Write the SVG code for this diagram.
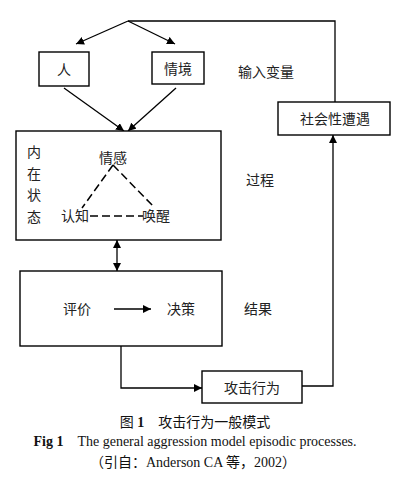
<svg xmlns="http://www.w3.org/2000/svg" width="400" height="479" viewBox="0 0 400 479">
<defs>
<marker id="ah" viewBox="0 0 10 10" refX="10" refY="5" markerWidth="8" markerHeight="8" orient="auto-start-reverse" markerUnits="userSpaceOnUse">
<path d="M0,0 L10,5 L0,10 z" fill="#000"/>
</marker>
<style>
.box{fill:#fff;stroke:#000;stroke-width:1.4}
.ln{fill:none;stroke:#000;stroke-width:1.3}
.dash{fill:none;stroke:#000;stroke-width:1.5;stroke-dasharray:8,4}
.t{font-family:"Liberation Serif","Noto Sans CJK SC",serif;font-size:14px;fill:#222;text-anchor:middle;dominant-baseline:central}
.c{font-family:"Liberation Serif","Noto Sans CJK SC",serif;font-size:14px;fill:#111;text-anchor:middle}
</style>
</defs>
<rect width="400" height="479" fill="#fff"/>
<g id="connectors">
<polyline class="ln" points="128,21 335,21 335,102"/>
<line class="ln" x1="128" y1="21" x2="76" y2="44" marker-end="url(#ah)"/>
<line class="ln" x1="128" y1="21" x2="175" y2="44" marker-end="url(#ah)"/>
<line class="ln" x1="64" y1="88" x2="124" y2="131" marker-end="url(#ah)"/>
<line class="ln" x1="176" y1="88" x2="128" y2="131" marker-end="url(#ah)"/>
<line class="ln" x1="117" y1="240" x2="117" y2="271" marker-start="url(#ah)" marker-end="url(#ah)"/>
<polyline class="ln" points="121,346 121,388 202,388" marker-end="url(#ah)"/>
<polyline class="ln" points="302,386 333,386 333,135" marker-end="url(#ah)"/>
</g>
<g id="node-ren"><rect class="box" x="39" y="52" width="50" height="34"/><text class="t" x="64" y="70">人</text></g>
<g id="node-qingjing"><rect class="box" x="152" y="52" width="52" height="32"/><text class="t" x="178" y="69">情境</text></g>
<g id="label-input"><text class="t" x="266" y="72">输入变量</text></g>
<g id="node-social"><rect class="box" x="278" y="102" width="112" height="33"/><text class="t" x="335" y="119">社会性遭遇</text></g>
<g id="node-process">
<rect class="box" x="16" y="131" width="205" height="109"/>
<text class="t" x="34" y="152" font-size="12">内</text>
<text class="t" x="34" y="174" font-size="12">在</text>
<text class="t" x="34" y="195" font-size="12">状</text>
<text class="t" x="34" y="217" font-size="12">态</text>
<text class="t" x="113" y="158">情感</text>
<path class="dash" d="M113,165 L82,208 M113,165 L153,206 M90,216 L143,216"/>
<text class="t" x="75" y="216">认知</text>
<text class="t" x="156" y="216">唤醒</text>
</g>
<g id="label-process"><text class="t" x="260" y="180">过程</text></g>
<g id="node-result">
<rect class="box" x="20" y="271" width="202" height="75"/>
<text class="t" x="77" y="309">评价</text>
<line class="ln" x1="114" y1="309" x2="151" y2="309" marker-end="url(#ah)"/>
<text class="t" x="181" y="309">决策</text>
</g>
<g id="label-result"><text class="t" x="258" y="309">结果</text></g>
<g id="node-aggression"><rect class="box" x="202" y="371" width="100" height="32"/><text class="t" x="252" y="388">攻击行为</text></g>
<g id="caption">
<text class="c" x="195" y="427">图 <tspan font-weight="bold">1</tspan>　攻击行为一般模式</text>
<text class="c" x="195" y="446" font-size="15"><tspan font-weight="bold">Fig 1</tspan>　The general aggression model episodic processes.</text>
<text class="c" x="193" y="467">（引自：Anderson CA 等，2002）</text>
</g>
</svg>
